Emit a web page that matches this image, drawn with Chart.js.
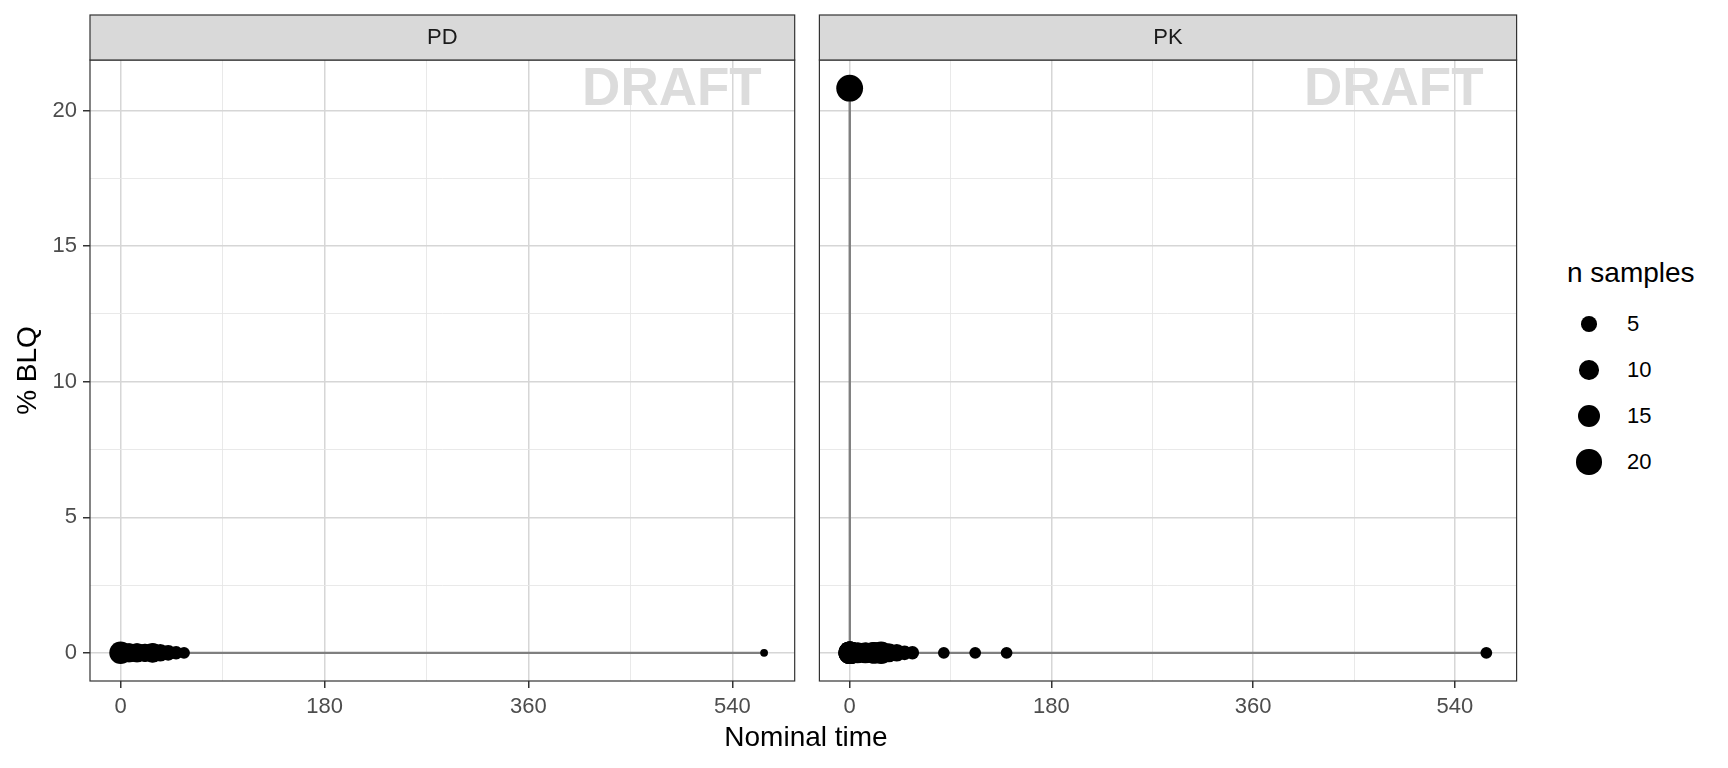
<!DOCTYPE html>
<html>
<head>
<meta charset="utf-8">
<script src="https://cdn.jsdelivr.net/npm/chart.js@4.4.1/dist/chart.umd.min.js"></script>
<style>
  body { margin: 0; background: #fff; width: 1728px; height: 768px; overflow: hidden; position: relative;
         font-family: "Liberation Sans", Arial, sans-serif; }
  canvas { position: absolute; top: 0; }
  .txt { position: absolute; white-space: nowrap; color: #000; }
  .dot { position: absolute; background: #000; border-radius: 50%; }
</style>
</head>
<body>
<canvas id="pd" width="806" height="768" style="left:0px;width:806px;height:768px"></canvas>
<canvas id="pk" width="724" height="768" style="left:806px;width:724px;height:768px"></canvas>
<div class="txt" id="xtitle" style="left:0;width:1612px;top:721px;font-size:28px;text-align:center">Nominal time</div>
<div id="legend"></div>
<script>
// panel data (time, % BLQ, number of samples)
const pdTime = [0, 1, 2, 3, 7, 8, 14, 15, 21, 22, 28, 29, 35, 42, 49, 56, 568];
const pdBlq  = [0, 0, 0, 0, 0, 0, 0, 0, 0, 0, 0, 0, 0, 0, 0, 0, 0];
const pdN    = [15, 10, 10, 9, 9, 9, 9, 9, 8, 8, 10, 9, 7, 5, 3, 2, 1];

const pkTime = [0, 0.04, 0.08, 0.17, 0.25, 0.5, 1, 2, 3, 7, 8, 14, 15, 21, 22, 28, 29, 35, 42, 49, 56, 84, 112, 140, 568];
const pkBlq  = [20.83, 0, 0, 0, 0, 0, 0, 0, 0, 0, 0, 0, 0, 0, 0, 0, 0, 0, 0, 0, 0, 0, 0, 0, 0];
const pkN    = [24, 15, 15, 15, 15, 15, 14, 13, 12, 12, 11, 12, 11, 13, 13, 15, 12, 9, 7, 4, 3, 2, 2, 2, 2];

// axis ticks
const xMajor = [0, 180, 360, 540];
const xMinor = [90, 270, 450];
const yMajor = [0, 5, 10, 15, 20];
const yMinor = [2.5, 7.5, 12.5, 17.5];
const legendBreaks = [5, 10, 15, 20];

const nMin = 1, nMax = 24;
function radius(n) {
  return 3.9 + 9.5 * Math.sqrt((n - nMin) / (nMax - nMin));
}

const FONT = '"Liberation Sans", Arial, sans-serif';

const panelPlugin = {
  id: 'panel',
  beforeDatasetsDraw(chart) {
    const a = chart.chartArea, c = chart.ctx;
    c.save();
    c.font = 'bold 53px ' + FONT;
    c.fillStyle = '#DCDCDC';
    c.textAlign = 'right';
    c.textBaseline = 'alphabetic';
    c.fillText('DRAFT', a.right - 33, a.top + 45);
    c.restore();
  },
  afterDraw(chart) {
    const a = chart.chartArea, c = chart.ctx;
    const lbl = chart.options.plugins.panel.label;
    c.save();
    c.strokeStyle = '#333333';
    c.lineWidth = 1.2;
    c.strokeRect(a.left, a.top, a.right - a.left, a.bottom - a.top);
    // strip
    c.fillStyle = '#D9D9D9';
    c.fillRect(a.left, a.top - 45, a.right - a.left, 45);
    c.strokeRect(a.left, a.top - 45, a.right - a.left, 45);
    c.fillStyle = '#1A1A1A';
    c.font = '22px ' + FONT;
    c.textAlign = 'center';
    c.textBaseline = 'middle';
    c.fillText(lbl, (a.left + a.right) / 2, a.top - 22.5);
    c.restore();
  }
};

function gridOpts(majors) {
  return {
    color: ctx => majors.includes(ctx.tick.value) ? '#D6D6D6' : '#E6E6E6',
    lineWidth: ctx => majors.includes(ctx.tick.value) ? 1.5 : 0.9,
    tickColor: ctx => majors.includes(ctx.tick.value) ? '#333333' : 'rgba(0,0,0,0)',
    tickLength: 7
  };
}

function makePanel(id, label, time, blq, n, first) {
  const pts = time.map((t, i) => ({ x: t, y: blq[i] }));
  return new Chart(document.getElementById(id), {
    type: 'scatter',
    data: {
      datasets: [{
        data: pts,
        showLine: true,
        borderColor: '#7F7F7F',
        borderWidth: 2.3,
        pointBackgroundColor: '#000',
        pointBorderWidth: 0,
        pointRadius: ctx => radius(n[ctx.dataIndex]),
        pointHoverRadius: ctx => radius(n[ctx.dataIndex]),
        clip: false
      }]
    },
    options: {
      responsive: false,
      animation: false,
      layout: { padding: { top: 60, left: first ? 0 : 8, right: first ? 8 : 9, bottom: 0 } },
      plugins: { legend: { display: false }, tooltip: { enabled: false }, panel: { label: label } },
      scales: {
        x: {
          type: 'linear', min: -27, max: 595,
          afterBuildTicks: s => { s.ticks = xMajor.concat(xMinor).sort((a, b) => a - b).map(v => ({ value: v })); },
          afterFit: s => { s.height = 87; },
          grid: gridOpts(xMajor),
          border: { display: false },
          ticks: {
            autoSkip: false, maxRotation: 0, padding: 6,
            color: '#4D4D4D', font: { family: FONT, size: 22 },
            callback: v => xMajor.includes(v) ? String(v) : ''
          }
        },
        y: {
          type: 'linear', min: -1.04, max: 21.87,
          afterBuildTicks: s => { s.ticks = yMajor.concat(yMinor).sort((a, b) => a - b).map(v => ({ value: v })); },
          afterFit: s => { s.width = first ? 90 : 0; },
          grid: Object.assign(gridOpts(yMajor), { drawTicks: first }),
          border: { display: false },
          title: { display: first, text: '% BLQ', color: '#000', font: { family: FONT, size: 28 }, padding: { top: 11, bottom: 0 } },
          ticks: {
            display: first, autoSkip: false, padding: 6,
            color: '#4D4D4D', font: { family: FONT, size: 22 },
            callback: v => yMajor.includes(v) ? String(v) : ''
          }
        }
      }
    },
    plugins: [panelPlugin]
  });
}

makePanel('pd', 'PD', pdTime, pdBlq, pdN, true);
makePanel('pk', 'PK', pkTime, pkBlq, pkN, false);

// size legend
const leg = document.getElementById('legend');
let html = '<div class="txt" style="left:1567px;top:257px;font-size:28px">n samples</div>';
legendBreaks.forEach((b, i) => {
  const cy = 324 + i * 46, r = radius(b);
  html += '<div class="dot" style="left:' + (1589 - r) + 'px;top:' + (cy - r) + 'px;width:' + (2 * r) + 'px;height:' + (2 * r) + 'px"></div>';
  html += '<div class="txt" style="left:1627px;top:' + (cy - 13) + 'px;font-size:22px">' + b + '</div>';
});
leg.innerHTML = html;
</script>
</body>
</html>
